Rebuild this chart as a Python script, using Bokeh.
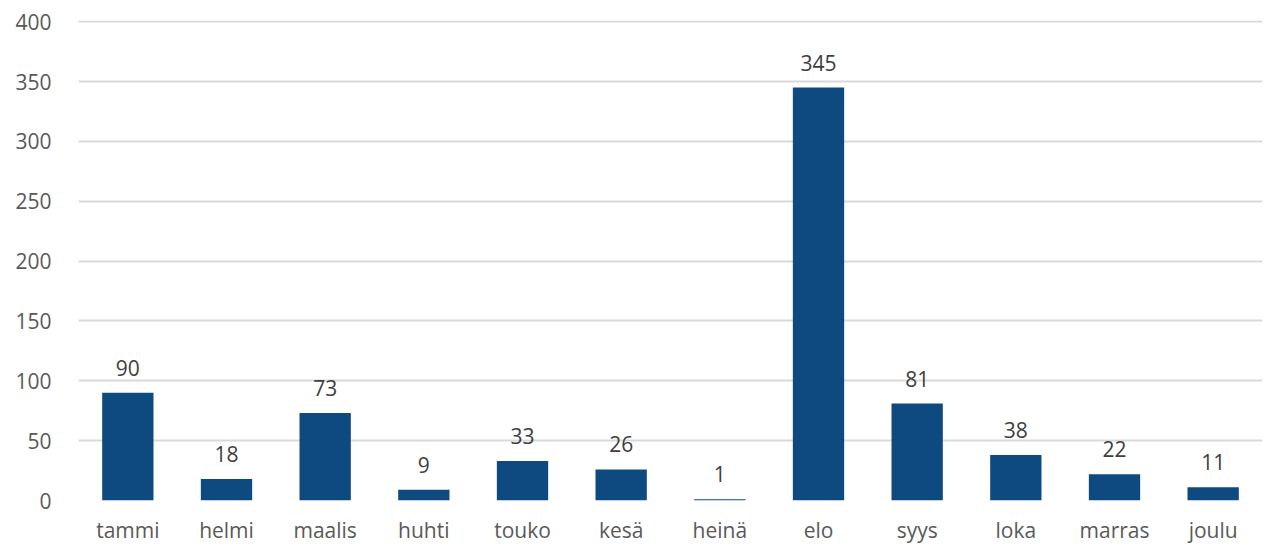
from bokeh.plotting import figure
from bokeh.models import ColumnDataSource, LabelSet, Range1d, FixedTicker
from bokeh.core.properties import value
from bokeh.embed import file_html
from bokeh.resources import INLINE

months = ["tammi", "helmi", "maalis", "huhti", "touko", "kesä", "heinä", "elo", "syys", "loka", "marras", "joulu"]
counts = [90, 18, 73, 9, 33, 26, 1, 345, 81, 38, 22, 11]
y_ticks = [0, 50, 100, 150, 200, 250, 300, 350, 400]

FONT = "Open Sans"
TEXT = "#595959"

src = ColumnDataSource(dict(m=months, v=counts, t=[str(c) for c in counts]))

p = figure(x_range=months, frame_width=1184, frame_height=480, output_backend="svg",
           toolbar_location=None, min_border_left=78, min_border_right=4,
           min_border_top=20, min_border_bottom=36)
p.y_range = Range1d(0, 401)
p.vbar(x="m", top="v", width=0.52, source=src, color="#0E4A80", line_color=None)

labels = LabelSet(x="m", y="v", text="t", source=src, text_align="center",
                  text_baseline="bottom", y_offset=17, text_font=value(FONT),
                  text_font_size="21px", text_color="#404040")
p.add_layout(labels)

p.outline_line_color = None
p.xgrid.grid_line_color = None
p.ygrid.grid_line_color = "#D9D9D9"
p.ygrid.grid_line_width = 2
p.yaxis.ticker = FixedTicker(ticks=y_ticks)
for ax in (p.xaxis, p.yaxis):
    ax.axis_line_color = None
    ax.major_tick_line_color = None
    ax.minor_tick_line_color = None
    ax.major_label_text_font = FONT
    ax.major_label_text_font_size = "21px"
    ax.major_label_text_color = TEXT
p.yaxis.major_label_standoff = 21
p.xaxis.major_label_standoff = 9

open("out.html", "w").write(file_html(p, INLINE))
